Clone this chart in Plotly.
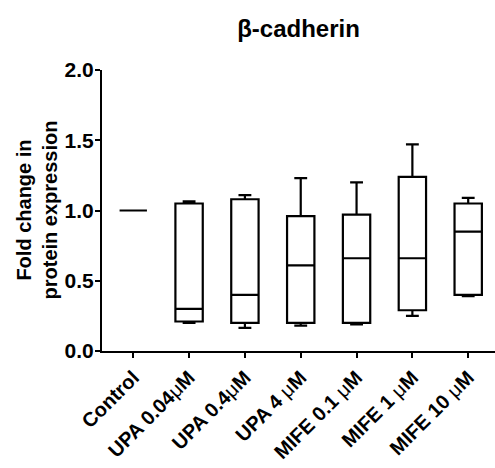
import plotly.graph_objects as go

categories = ["Control", "UPA 0.04μM", "UPA 0.4μM", "UPA 4 μM", "MIFE 0.1 μM", "MIFE 1 μM", "MIFE 10 μM"]
tick_labels = ["<b>Control</b>", "<b>UPA 0.04</b>μ<b>M</b>", "<b>UPA 0.4</b>μ<b>M</b>", "<b>UPA 4 </b>μ<b>M</b>",
               "<b>MIFE 0.1 </b>μ<b>M</b>", "<b>MIFE 1 </b>μ<b>M</b>", "<b>MIFE 10 </b>μ<b>M</b>"]
lower = [1.0, 0.20, 0.165, 0.18, 0.19, 0.25, 0.39]
q1 = [1.0, 0.21, 0.20, 0.20, 0.20, 0.29, 0.40]
median = [1.0, 0.30, 0.40, 0.61, 0.66, 0.66, 0.85]
q3 = [1.0, 1.05, 1.08, 0.96, 0.97, 1.24, 1.05]
upper = [1.0, 1.065, 1.11, 1.23, 1.20, 1.47, 1.09]
y_ticks = [0.0, 0.5, 1.0, 1.5, 2.0]

FONT = "Liberation Sans"

fig = go.Figure(go.Box(
    x=categories, q1=q1, median=median, q3=q3, lowerfence=lower, upperfence=upper,
    fillcolor="white", line=dict(color="black", width=2.2), whiskerwidth=0.47,
    boxpoints=False, showlegend=False, hoverinfo="skip"))

W, H = 495, 468
L, R, T, B = 102, 0, 70, 117
pw = W - L - R

fig.update_layout(
    width=W, height=H, margin=dict(l=L, r=R, t=T, b=B),
    paper_bgcolor="white", plot_bgcolor="white",
    font=dict(family=FONT, color="black"),
    boxgap=0.3,
    title=dict(text="<b>β-cadherin</b>", x=0.5, xref="paper", xanchor="center",
               y=1 - 29 / H, yref="container", yanchor="middle",
               font=dict(family=FONT, size=24, color="black")),
    xaxis=dict(type="category", categoryorder="array", categoryarray=categories,
               range=[-0.56, 6.48], tickmode="array", tickvals=categories, ticktext=tick_labels,
               tickangle=-45, ticks="outside", ticklen=5, tickwidth=2, tickcolor="black",
               showline=True, linecolor="black", linewidth=2, showgrid=False, zeroline=False,
               tickfont=dict(family=FONT, size=20, color="black")),
    yaxis=dict(range=[0, 2.0], tickmode="array", tickvals=y_ticks,
               ticktext=[f"<b>{v:.1f}</b>" for v in y_ticks],
               ticks="outside", ticklen=5, tickwidth=2, tickcolor="black",
               ticklabelstandoff=-3,
               showline=True, linecolor="black", linewidth=2, showgrid=False, zeroline=False,
               tickfont=dict(family=FONT, size=21, color="black")),
    annotations=[dict(text="<b>Fold change in<br>protein expression</b>", textangle=-90,
                      xref="paper", yref="paper", x=(36 - L) / pw, y=0.5,
                      xanchor="center", yanchor="middle", showarrow=False,
                      font=dict(family=FONT, size=20, color="black"))],
)

fig.write_html("out.html")
